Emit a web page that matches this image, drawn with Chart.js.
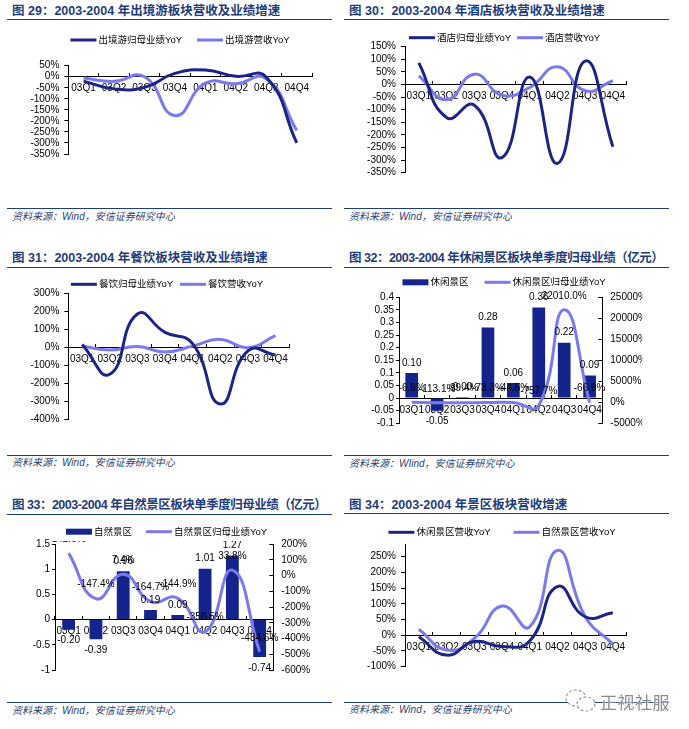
<!DOCTYPE html>
<html>
<head>
<meta charset="utf-8">
<script src="https://cdn.jsdelivr.net/npm/chart.js@4.4.1/dist/chart.umd.min.js"></script>
<style>
  body { margin: 0; background: #fff; width: 689px; height: 729px; position: relative; overflow: hidden;
         font-family: "Liberation Sans", "Noto Sans CJK SC", sans-serif; }
  .title { position: absolute; font-weight: bold; font-size: 12.5px; line-height: 14px; color: #1f3c7a; white-space: nowrap; }
  .tight { letter-spacing: -0.5px; }
  .rule { position: absolute; height: 0; border-top: 1.5px solid #1f3c7a; width: 325px; }
  .src { position: absolute; font-style: italic; font-size: 10px; line-height: 12px; color: #2a4272; white-space: nowrap; }
  canvas { position: absolute; }
  .mark { position: absolute; left: 600px; top: 689px; font-size: 17px; color: #8c8c8c; letter-spacing: 0.5px;
          text-shadow: 0 0 2px #fff, 0 0 2px #fff; font-family: "Noto Sans CJK SC", sans-serif; }
</style>
</head>
<body>
<div class="title" style="left:12px;top:4px">图 29：2003-2004 年出境游板块营收及业绩增速</div>
<div class="title" style="left:349px;top:4px">图 30：2003-2004 年酒店板块营收及业绩增速</div>
<div class="title" style="left:12px;top:251px">图 31：2003-2004 年餐饮板块营收及业绩增速</div>
<div class="title tight" style="left:349px;top:251px">图 32：2003-2004 年休闲景区板块单季度归母业绩（亿元）</div>
<div class="title tight" style="left:12px;top:498px">图 33：2003-2004 年自然景区板块单季度归母业绩（亿元）</div>
<div class="title" style="left:349px;top:498px">图 34：2003-2004 年景区板块营收增速</div>

<div class="rule" style="left:7px;top:19px"></div>
<div class="rule" style="left:344px;top:19px"></div>
<div class="rule" style="left:7px;top:267px"></div>
<div class="rule" style="left:344px;top:267px"></div>
<div class="rule" style="left:7px;top:514px"></div>
<div class="rule" style="left:344px;top:513px"></div>

<div class="rule" style="left:7px;top:208px"></div>
<div class="rule" style="left:344px;top:208px"></div>
<div class="rule" style="left:7px;top:455px"></div>
<div class="rule" style="left:344px;top:455px"></div>
<div class="rule" style="left:7px;top:702px"></div>
<div class="rule" style="left:344px;top:702px"></div>

<div class="src" style="left:12px;top:211px">资料来源：Wind，安信证券研究中心</div>
<div class="src" style="left:349px;top:211px">资料来源：Wind，安信证券研究中心</div>
<div class="src" style="left:12px;top:457px">资料来源：Wind，安信证券研究中心</div>
<div class="src" style="left:349px;top:458px">资料来源：WIind，安信证券研究中心</div>
<div class="src" style="left:12px;top:705px">资料来源：Wind，安信证券研究中心</div>
<div class="src" style="left:349px;top:704px">资料来源：Wind，安信证券研究中心</div>

<canvas id="c29"></canvas>
<canvas id="c30"></canvas>
<canvas id="c31"></canvas>
<canvas id="c32"></canvas>
<canvas id="c33"></canvas>
<canvas id="c34"></canvas>

<svg style="position:absolute;left:565px;top:688px" width="32" height="26" viewBox="0 0 32 26">
  <ellipse cx="11" cy="10" rx="10" ry="8" fill="#fff" stroke="#9a9a9a" stroke-width="1.2" stroke-dasharray="3 2"/>
  <ellipse cx="21" cy="16" rx="9" ry="7" fill="#fff" stroke="#9a9a9a" stroke-width="1.2" stroke-dasharray="3 2"/>
</svg>
<div class="mark">正视社服</div>

<script>
const categories = ["03Q1", "03Q2", "03Q3", "03Q4", "04Q1", "04Q2", "04Q3", "04Q4"];

// 图29 出境游
const outboundProfitYoY = [-20, -55, -48, 15, 30, 2, -2, -300];
const outboundRevenueYoY = [-6, -21, 0, -176, -29, -32, -10, -244];
const outboundTicks = [-350, -300, -250, -200, -150, -100, -50, 0, 50];

// 图30 酒店
const hotelProfitYoY = [86, -131, -82, -290, 30, -313, 93, -247];
const hotelRevenueYoY = [34, -60, 41, -42, -12, 70, -25, 15];
const hotelTicks = [-350, -300, -250, -200, -150, -100, -50, 0, 50, 100, 150];

// 图31 餐饮
const cateringProfitYoY = [15, -150, 185, 83, 20, -315, -20, -43];
const cateringRevenueYoY = [7, -15, 4, -26, 7, 44, -2, 65];
const cateringTicks = [-400, -300, -200, -100, 0, 100, 200, 300];

// 图32 休闲景区（亿元 / YoY %）
const leisureProfit = [0.10, -0.05, 0.004, 0.28, 0.06, 0.36, 0.22, 0.09];
const leisureProfitYoY = [-6.6, -113.1, -99.4, -73.3, -44.5, -757.7, 22010.0, -66.9];
const leisureLeftTicks = [-0.1, -0.05, 0, 0.05, 0.1, 0.15, 0.2, 0.25, 0.3, 0.35, 0.4];
const leisureRightTicks = [-5000, 0, 5000, 10000, 15000, 20000, 25000];

// 图33 自然景区（亿元 / YoY %）
const naturalProfit = [-0.20, -0.39, 0.96, 0.19, 0.09, 1.01, 1.27, -0.74];
const naturalProfitYoY = [142.0, -147.4, 7.4, -164.7, -144.9, -356.5, 33.8, -484.6];
const naturalLeftTicks = [-1, -0.5, 0, 0.5, 1, 1.5];
const naturalRightTicks = [-600, -500, -400, -300, -200, -100, 0, 100, 200];

// 图34 景区营收
const leisureRevenueYoY = [-5, -63, -20, -36, -18, 155, 59, 72];
const naturalRevenueYoY = [19, -47, -10, 93, 27, 270, 60, -28];
const scenicTicks = [-100, -50, 0, 50, 100, 150, 200, 250];

const DARK = "#1c2585";
const LIGHT = "#7b7aec";
const BAR = "#15248c";
const FONT = '"Liberation Sans", "Noto Sans CJK SC", sans-serif';

const pct = (v) => v + "%";
const num = (v) => String(v);

// legend drawn on the canvas so it can sit exactly where the original has it
const customLegend = {
  id: "customLegend",
  afterDraw(chart, args, opts) {
    const ctx = chart.ctx;
    ctx.save();
    ctx.font = "9.5px " + FONT;
    const sw = 26, tg = 2;
    const items = chart.data.datasets.map((ds) => ({ ds, w: ctx.measureText(ds.label).width }));
    const total = items.reduce((s, it) => s + sw + tg + it.w, 0) + opts.gap * (items.length - 1);
    let x = opts.cx - total / 2;
    items.forEach((it) => {
      if (it.ds.type === "bar") {
        ctx.fillStyle = it.ds.backgroundColor;
        ctx.fillRect(x, opts.cy - 3, sw, 6);
      } else {
        ctx.strokeStyle = it.ds.borderColor;
        ctx.lineWidth = 3;
        ctx.beginPath();
        ctx.moveTo(x, opts.cy);
        ctx.lineTo(x + sw, opts.cy);
        ctx.stroke();
      }
      ctx.fillStyle = "#000";
      ctx.textBaseline = "middle";
      ctx.textAlign = "left";
      ctx.fillText(it.ds.label, x + sw + tg, opts.cy + 0.5);
      x += sw + tg + it.w + opts.gap;
    });
    ctx.restore();
  },
};

// value labels for the bar + line charts
const valueLabels = {
  id: "valueLabels",
  afterDatasetsDraw(chart, args, opts) {
    if (!opts.enabled) return;
    const { ctx, chartArea } = chart;
    ctx.save();
    ctx.beginPath();
    ctx.rect(0, chartArea.top - opts.clipTop, chart.width, chart.height + opts.clipTop);
    ctx.clip();
    ctx.font = "10px " + FONT;
    ctx.fillStyle = "#000";
    ctx.textAlign = "center";
    ctx.textBaseline = "middle";
    chart.data.datasets.forEach((ds, di) => {
      const meta = chart.getDatasetMeta(di);
      meta.data.forEach((el, i) => {
        const v = ds.data[i];
        if (ds.type === "bar") {
          ctx.fillText(v.toFixed(2), el.x, v >= 0 ? el.y - 10 : el.y + 11);
        } else {
          ctx.fillText(v.toFixed(1) + "%", el.x, el.y - 14);
        }
      });
    });
    ctx.restore();
  },
};

function lineSet(label, data, color, axis) {
  return {
    type: "line", label, data, yAxisID: axis || "y",
    borderColor: color, backgroundColor: color, borderWidth: 3,
    pointRadius: 0, tension: 0.5, fill: false, order: 0,
  };
}

function barSet(label, data, pctWidth) {
  return {
    type: "bar", label, data, yAxisID: "y",
    backgroundColor: BAR, barPercentage: pctWidth, categoryPercentage: 1, order: 1,
  };
}

function xScale() {
  return {
    type: "category", offset: true, position: { y: 0 },
    grid: { display: true, offset: true, drawOnChartArea: false, drawTicks: true, tickLength: -4, color: "#000" },
    border: { display: true, color: "#000", width: 1 },
    ticks: { autoSkip: false, maxRotation: 0, minRotation: 0, padding: 10, color: "#000", font: { size: 10, family: FONT } },
  };
}

function yScale(ticks, min, max, fmt, side, tl, pad) {
  return {
    type: "linear", position: side, min, max,
    afterBuildTicks: (s) => { s.ticks = ticks.map((v) => ({ value: v })); },
    afterFit: (s) => { s.width = 40; },
    grid: { display: true, drawOnChartArea: false, drawTicks: true, tickLength: tl, color: "#000" },
    border: { display: true, color: "#000", width: 1 },
    ticks: { autoSkip: false, padding: pad, color: "#000", font: { size: 10, family: FONT }, callback: fmt },
  };
}

function makeChart(id, box, plot, legend, datasets, scales, labels) {
  const cv = document.getElementById(id);
  cv.width = box.w;
  cv.height = box.h;
  cv.style.left = box.x + "px";
  cv.style.top = box.y + "px";
  cv.style.width = box.w + "px";
  cv.style.height = box.h + "px";
  const wr = scales.y2 ? 40 : 0;
  return new Chart(cv, {
    type: "bar",
    data: { labels: categories, datasets },
    options: {
      responsive: false,
      animation: false,
      layout: {
        autoPadding: false,
        padding: {
          left: plot.l - box.x - 40,
          right: box.x + box.w - plot.r - wr,
          top: plot.t - box.y,
          bottom: box.y + box.h - plot.b,
        },
      },
      elements: { line: { capBezierPoints: false } },
      scales,
      plugins: {
        legend: { display: false },
        tooltip: { enabled: false },
        customLegend: { cx: legend.cx - box.x, cy: legend.cy - box.y, gap: legend.gap },
        valueLabels: labels || { enabled: false },
      },
    },
    plugins: [customLegend, valueLabels],
  });
}

// 图29
makeChart("c29",
  { x: 0, y: 22, w: 340, h: 184 }, { l: 68.3, r: 312, t: 65.7, b: 154 }, { cx: 180, cy: 40, gap: 15 },
  [lineSet("出境游归母业绩YoY", outboundProfitYoY, DARK), lineSet("出境游营收YoY", outboundRevenueYoY, LIGHT)],
  { x: xScale(), y: yScale(outboundTicks, -350, 50, pct, "left", 4, 5) });

// 图30
makeChart("c30",
  { x: 344, y: 22, w: 345, h: 184 }, { l: 405, r: 626.7, t: 46.7, b: 172.7 }, { cx: 504.5, cy: 37.7, gap: 6 },
  [lineSet("酒店归母业绩YoY", hotelProfitYoY, DARK), lineSet("酒店营收YoY", hotelRevenueYoY, LIGHT)],
  { x: xScale(), y: yScale(hotelTicks, -350, 150, pct, "left", 4, 5) });

// 图31
makeChart("c31",
  { x: 0, y: 270, w: 340, h: 183 }, { l: 68.3, r: 289.3, t: 293.3, b: 419.3 }, { cx: 167, cy: 284.3, gap: 7 },
  [lineSet("餐饮归母业绩YoY", cateringProfitYoY, DARK), lineSet("餐饮营收YoY", cateringRevenueYoY, LIGHT)],
  { x: xScale(), y: yScale(cateringTicks, -400, 300, pct, "left", 4, 5) });

// 图32
makeChart("c32",
  { x: 344, y: 270, w: 345, h: 183 }, { l: 399, r: 602.3, t: 297.3, b: 423.3 }, { cx: 504, cy: 282.3, gap: 16 },
  [barSet("休闲景区", leisureProfit, 0.5), lineSet("休闲景区归母业绩YoY", leisureProfitYoY, LIGHT, "y2")],
  {
    x: xScale(),
    y: yScale(leisureLeftTicks, -0.1, 0.4, num, "left", 3, 2),
    y2: yScale(leisureRightTicks, -5000, 25000, pct, "right", -4, 12),
  },
  { enabled: true, clipTop: 100 });

// 图33
makeChart("c33",
  { x: 0, y: 517, w: 340, h: 183 }, { l: 55, r: 273.3, t: 544, b: 670 }, { cx: 166.5, cy: 531.7, gap: 14 },
  [barSet("自然景区", naturalProfit, 0.47), lineSet("自然景区归母业绩YoY", naturalProfitYoY, LIGHT, "y2")],
  {
    x: xScale(),
    y: yScale(naturalLeftTicks, -1, 1.5, num, "left", 3, 2),
    y2: yScale(naturalRightTicks, -600, 200, pct, "right", -4, 12),
  },
  { enabled: true, clipTop: 3 });

// 图34
makeChart("c34",
  { x: 344, y: 517, w: 345, h: 183 }, { l: 405, r: 626.7, t: 544.8, b: 666.7 }, { cx: 502, cy: 532.3, gap: 23 },
  [lineSet("休闲景区营收YoY", leisureRevenueYoY, DARK), lineSet("自然景区营收YoY", naturalRevenueYoY, LIGHT)],
  { x: xScale(), y: yScale(scenicTicks, -100, 288, pct, "left", 4, 5) });
</script>
</body>
</html>
